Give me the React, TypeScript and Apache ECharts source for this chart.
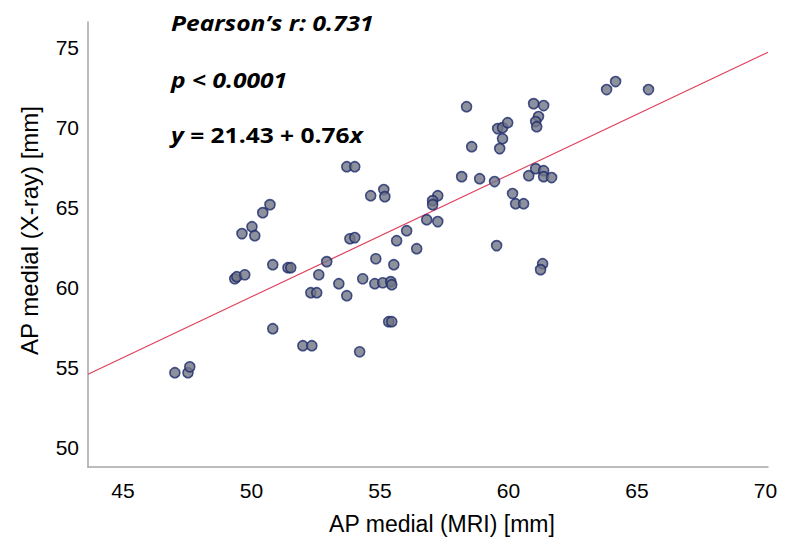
import React, { useEffect, useRef } from "react";
import * as echarts from "echarts";

// AP medial (MRI) [mm]
const mriValues = [
  47.02, 47.53, 47.6, 50.72, 50.44, 50.02, 49.63, 50.13, 50.83, 51.42, 51.53, 49.35, 49.43, 49.74,
  52.93, 52.62, 52.31, 52.54, 53.4, 53.71, 53.83, 54.02, 54.64, 55.15, 55.19, 54.84, 55.54, 55.65,
  54.33, 54.8, 55.11, 55.42, 55.46, 55.34, 55.46, 50.83, 52.0, 52.35, 54.21, 53.71, 54.02, 57.25,
  57.05, 57.05, 56.82, 57.25, 56.04, 56.43, 58.37, 58.57, 58.18, 58.88, 59.46, 59.54, 59.58, 59.77,
  59.97, 59.77, 59.66, 60.98, 61.37, 61.17, 61.06, 61.1, 60.16, 60.28, 60.59, 60.79, 61.06, 61.37,
  61.37, 61.68, 61.33, 61.25, 63.82, 64.17, 65.45,
];
// AP medial (X-ray) [mm]
const xrayValues = [
  54.69, 54.69, 55.06, 65.19, 64.69, 63.81, 63.38, 63.25, 61.44, 61.25, 61.25, 60.56, 60.69, 60.81,
  61.63, 60.81, 59.69, 59.69, 60.25, 59.5, 63.06, 63.13, 65.75, 66.13, 65.69, 61.81, 61.44, 62.94,
  60.56, 60.25, 60.31, 60.38, 60.19, 57.88, 57.88, 57.44, 56.38, 56.38, 56.0, 67.56, 67.56, 65.75,
  65.44, 65.19, 64.25, 64.13, 63.56, 62.44, 71.31, 68.81, 66.94, 66.81, 66.63, 62.63, 69.94, 70.0,
  70.31, 69.31, 68.69, 71.5, 71.38, 70.69, 70.38, 70.06, 65.88, 65.25, 65.25, 67.0, 67.44, 67.31,
  66.94, 66.88, 61.5, 61.13, 72.38, 72.88, 72.38,
];

const xTickLabels = [45, 50, 55, 60, 65, 70];
const yTickLabels = [50, 55, 60, 65, 70, 75];
const xRange = [43.64, 70.1];
const yRange = [48.8, 76.6];
const fitIntercept = 21.43;
const fitSlope = 0.76;

const statLines = ["Pearson\u2019s r: 0.731", "p < 0.0001"];

export default function App() {
  const ref = useRef<HTMLDivElement>(null);
  useEffect(() => {
    if (!ref.current) return;
    const chart = echarts.init(ref.current, null, { renderer: "svg" });
    const points = mriValues.map((x, i) => [x, xrayValues[i]]);
    const fitLine = xRange.map((x) => [x, fitIntercept + fitSlope * x]);
    const annFont = "'Open Sans', Lato, sans-serif";
    const axisFont = "'Liberation Sans', Arial, sans-serif";
    const annScale = 1.17;
    chart.setOption({
      animation: false,
      backgroundColor: "#ffffff",
      grid: { left: 88, right: 26, top: 22, bottom: 83 },
      xAxis: {
        type: "value",
        min: xRange[0],
        max: xRange[1],
        name: "AP medial (MRI) [mm]",
        nameLocation: "middle",
        nameGap: 45,
        nameTextStyle: {
          fontFamily: axisFont,
          fontSize: 23,
          color: "#000",
          padding: [0, 0, 0, 28],
        },
        axisLine: { show: true, lineStyle: { color: "#a6a6a6", width: 1.5 } },
        axisTick: { show: false },
        splitLine: { show: false },
        axisLabel: {
          customValues: xTickLabels,
          margin: 13,
          fontFamily: axisFont,
          fontSize: 21,
          color: "#000",
        },
      },
      yAxis: {
        type: "value",
        min: yRange[0],
        max: yRange[1],
        name: "AP medial (X-ray) [mm]",
        nameLocation: "middle",
        nameGap: 47,
        nameTextStyle: {
          fontFamily: axisFont,
          fontSize: 24,
          color: "#000",
          padding: [0, 0, 0, 28],
        },
        axisLine: { show: true, lineStyle: { color: "#a6a6a6", width: 1.5 } },
        axisTick: { show: false },
        splitLine: { show: false },
        axisLabel: {
          customValues: yTickLabels,
          margin: 9,
          fontFamily: axisFont,
          fontSize: 21,
          color: "#000",
        },
      },
      series: [
        {
          type: "line",
          data: fitLine,
          symbol: "none",
          lineStyle: { color: "#e0405c", width: 1.2 },
          z: 1,
        },
        {
          type: "scatter",
          data: points,
          symbol: "circle",
          symbolSize: 10,
          itemStyle: { color: "#717484", borderColor: "#1c2a6c", borderWidth: 1.6 },
          z: 2,
        },
      ],
      graphic: [
        {
          type: "text",
          x: 171,
          y: 23,
          scaleX: annScale,
          style: {
            text: statLines[0],
            font: `italic bold 21px ${annFont}`,
            fill: "#000",
            verticalAlign: "middle",
          },
        },
        {
          type: "text",
          x: 171,
          y: 80,
          scaleX: annScale,
          style: {
            text: statLines[1],
            font: `italic bold 21px ${annFont}`,
            fill: "#000",
            verticalAlign: "middle",
          },
        },
        {
          type: "text",
          x: 171,
          y: 135,
          scaleX: annScale,
          style: {
            text: `{i|y}{b| = ${fitIntercept} + ${fitSlope}}{i|x}`,
            verticalAlign: "middle",
            rich: {
              i: { fontFamily: annFont, fontStyle: "italic", fontWeight: "bold", fontSize: 21, fill: "#000" },
              b: { fontFamily: annFont, fontWeight: "bold", fontSize: 21, fill: "#000" },
            },
          },
        },
      ],
    });
    return () => chart.dispose();
  }, []);
  return (
    <div
      ref={ref}
      style={{ position: "fixed", left: 0, top: 0, width: 794, height: 550 }}
    />
  );
}
